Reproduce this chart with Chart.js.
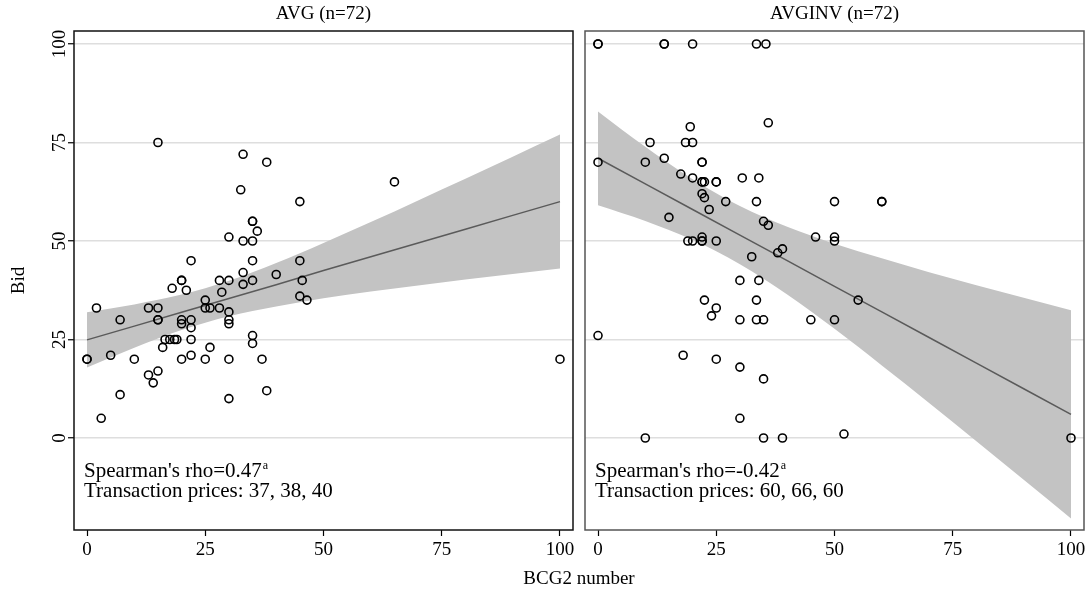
<!DOCTYPE html>
<html>
<head>
<meta charset="utf-8">
<script src="https://cdn.jsdelivr.net/npm/chart.js@4.4.1/dist/chart.umd.min.js"></script>
<style>
    body { margin: 0; background: #fff; width: 1091px; height: 595px; overflow: hidden; position: relative; }
    #avg-chart { position: absolute; left: 0; top: 0; }
    #avginv-chart { position: absolute; left: 579px; top: 0; }
    #x-title { position: absolute; left: 379px; width: 400px; top: 567px; text-align: center;
               font: 19px "Liberation Serif", "Times New Roman", serif; color: #000; }
</style>
</head>
<body>
<canvas id="avg-chart" width="579" height="595"></canvas>
<canvas id="avginv-chart" width="512" height="595"></canvas>
<div id="x-title">BCG2 number</div>
<script>
// --- data ---
const xTicks = [0, 25, 50, 75, 100];
const yTicks = [0, 25, 50, 75, 100];

const avgX = [15, 33, 38, 65, 32.5, 45, 35, 35, 36, 30, 33, 35, 22, 35, 45, 33, 40, 20, 20, 28,
              30, 35, 33, 45.5, 18, 21, 28.5, 45, 46.5, 25, 2, 13, 15, 25, 26, 28, 30, 30, 30, 7,
              15, 15, 20, 20, 22, 22, 16.5, 17.5, 18.5, 19, 22, 16, 26, 35, 35, 0, 0, 5, 10, 20,
              22, 25, 30, 37, 13, 15, 14, 7, 38, 30, 3, 100];
const avgY = [75, 72, 70, 65, 63, 60, 55, 55, 52.5, 51, 50, 50, 45, 45, 45, 42, 41.5, 40, 40, 40,
              40, 40, 39, 40, 38, 37.5, 37, 36, 35, 35, 33, 33, 33, 33, 33, 33, 32, 30, 29, 30,
              30, 30, 30, 29, 30, 28, 25, 25, 25, 25, 25, 23, 23, 26, 24, 20, 20, 21, 20, 20,
              21, 20, 20, 20, 16, 17, 14, 11, 12, 10, 5, 20];

const invX = [0, 0, 14, 14, 20, 33.5, 35.5, 36, 19.5, 11, 18.5, 20, 0, 10, 14, 22, 22, 17.5, 20, 22,
              22.5, 25, 30.5, 34, 22, 22.5, 27, 33.5, 23.5, 15, 35, 36, 46, 19, 20, 22, 22, 25, 32.5, 38,
              39, 30, 34, 22.5, 33.5, 25, 24, 30, 33.5, 35, 45, 0, 18, 25, 30, 35, 30, 10, 35, 39,
              50, 50, 55, 50, 52, 100, 50, 60, 60, 25, 22, 22];
const invY = [100, 100, 100, 100, 100, 100, 100, 80, 79, 75, 75, 75, 70, 70, 71, 70, 70, 67, 66, 65,
              65, 65, 66, 66, 62, 61, 60, 60, 58, 56, 55, 54, 51, 50, 50, 51, 50, 50, 46, 47,
              48, 40, 40, 35, 35, 33, 31, 30, 30, 30, 30, 26, 21, 20, 18, 15, 5, 0, 0, 0,
              51, 50, 35, 30, 1, 0, 60, 60, 60, 65, 65, 50];

// fitted line and confidence band, read at these x positions
const fitX = [0, 10, 20, 30, 40, 50, 60, 70, 80, 90, 100];
const avgFit = [24.9, 28.4, 31.9, 35.4, 38.9, 42.5, 46.0, 49.5, 53.0, 56.5, 60.0];
const avgHi  = [31.9, 33.9, 36.4, 39.9, 44.4, 49.5, 54.8, 60.3, 65.8, 71.4, 77.0];
const avgLo  = [17.9, 22.9, 27.4, 30.9, 33.4, 35.5, 37.2, 38.7, 40.2, 41.6, 43.0];
const invFit = [71, 64.5, 58, 51.5, 45, 38.5, 32, 25.5, 19, 12.5, 6];
const invHi  = [82.9, 73.9, 65.7, 58.9, 53.6, 49.3, 45.6, 42.1, 38.8, 35.6, 32.4];
const invLo  = [59.1, 55.1, 50.3, 44.1, 36.4, 27.7, 18.4, 8.9, -0.8, -10.6, -20.4];

const FONT_FAMILY = '"Liberation Serif", "Times New Roman", serif';
const toXY = (xs, ys) => xs.map((x, i) => ({ x: x, y: ys[i] }));

// titles, rotated y labels, notes and frame
const panelDecor = {
    id: 'panelDecor',
    afterDraw(chart, args, opts) {
        const { ctx, chartArea: a } = chart;
        ctx.save();
        ctx.fillStyle = '#000';
        ctx.font = '19px ' + FONT_FAMILY;
        ctx.textAlign = 'center';
        ctx.textBaseline = 'middle';
        ctx.fillText(opts.title, (a.left + a.right) / 2, 14);

        if (opts.yLabels) {
            const ys = chart.scales.y;
            yTicks.forEach(v => {
                ctx.save();
                ctx.translate(60, ys.getPixelForValue(v));
                ctx.rotate(-Math.PI / 2);
                ctx.fillText(String(v), 0, 0);
                ctx.restore();
            });
        }

        // notes in the lower left corner
        ctx.textAlign = 'left';
        ctx.textBaseline = 'alphabetic';
        ctx.font = '21px ' + FONT_FAMILY;
        const tx = a.left + 10;
        ctx.fillText(opts.rho, tx, 477);
        const w = ctx.measureText(opts.rho).width;
        ctx.font = '12px ' + FONT_FAMILY;
        ctx.fillText('a', tx + w + 1, 469);
        ctx.font = '21px ' + FONT_FAMILY;
        ctx.fillText(opts.prices, tx, 497);

        ctx.strokeStyle = opts.frame;
        ctx.lineWidth = 1.5;
        ctx.strokeRect(a.left, a.top, a.right - a.left, a.bottom - a.top);
        ctx.restore();
    }
};

function renderPanel(canvasId, cfg) {
    const canvas = document.getElementById(canvasId);
    return new Chart(canvas, {
        type: 'line',
        data: {
            datasets: [{
                data: toXY(cfg.xs, cfg.ys),
                showLine: false,
                pointRadius: 4,
                pointHoverRadius: 4,
                pointBorderWidth: 1.6,
                pointBorderColor: '#000',
                pointBackgroundColor: 'rgba(0,0,0,0)'
            }, {
                data: toXY(fitX, cfg.fit),
                borderColor: '#5a5a5a',
                borderWidth: 1.5,
                pointRadius: 0
            }, {
                data: toXY(fitX, cfg.hi),
                borderWidth: 0,
                pointRadius: 0,
                cubicInterpolationMode: 'monotone',
                backgroundColor: '#c3c3c3',
                fill: '+1'
            }, {
                data: toXY(fitX, cfg.lo),
                borderWidth: 0,
                pointRadius: 0,
                cubicInterpolationMode: 'monotone',
                fill: false
            }]
        },
        options: {
            responsive: false,
            animation: false,
            events: [],
            layout: { padding: { top: 31, right: cfg.padRight, left: 0, bottom: 0 } },
            plugins: {
                legend: { display: false },
                tooltip: { enabled: false },
                panelDecor: cfg.decor
            },
            scales: {
                x: {
                    type: 'linear',
                    min: -2.75,
                    max: 102.75,
                    afterBuildTicks: s => { s.ticks = xTicks.map(v => ({ value: v })); },
                    afterFit: s => { s.height = 65; },
                    grid: { drawOnChartArea: false, drawTicks: true, tickLength: 6, tickColor: '#000', tickWidth: 1.2 },
                    border: { display: false },
                    ticks: { color: '#000', padding: 3, maxRotation: 0, font: { family: FONT_FAMILY, size: 19 } }
                },
                y: {
                    type: 'linear',
                    min: -23.35,
                    max: 103.3,
                    afterBuildTicks: s => { s.ticks = yTicks.map(v => ({ value: v })); },
                    afterFit: s => { s.width = cfg.yWidth; },
                    grid: { color: '#dedede', lineWidth: 1.5, drawTicks: cfg.showY, tickLength: 6, tickColor: '#000', tickWidth: 1.2 },
                    border: { display: false },
                    ticks: { display: false },
                    title: {
                        display: cfg.showY,
                        text: 'Bid',
                        color: '#000',
                        padding: { top: 8, bottom: 0 },
                        font: { family: FONT_FAMILY, size: 19 }
                    }
                }
            }
        },
        plugins: [panelDecor]
    });
}

renderPanel('avg-chart', {
    xs: avgX, ys: avgY, fit: avgFit, hi: avgHi, lo: avgLo,
    showY: true, yWidth: 74, padRight: 6,
    decor: { title: 'AVG (n=72)', yLabels: true, frame: '#111',
             rho: "Spearman's rho=0.47", prices: 'Transaction prices: 37, 38, 40' }
});

renderPanel('avginv-chart', {
    xs: invX, ys: invY, fit: invFit, hi: invHi, lo: invLo,
    showY: false, yWidth: 6, padRight: 7,
    decor: { title: 'AVGINV (n=72)', yLabels: false, frame: '#555',
             rho: "Spearman's rho=-0.42", prices: 'Transaction prices: 60, 66, 60' }
});
</script>
</body>
</html>
